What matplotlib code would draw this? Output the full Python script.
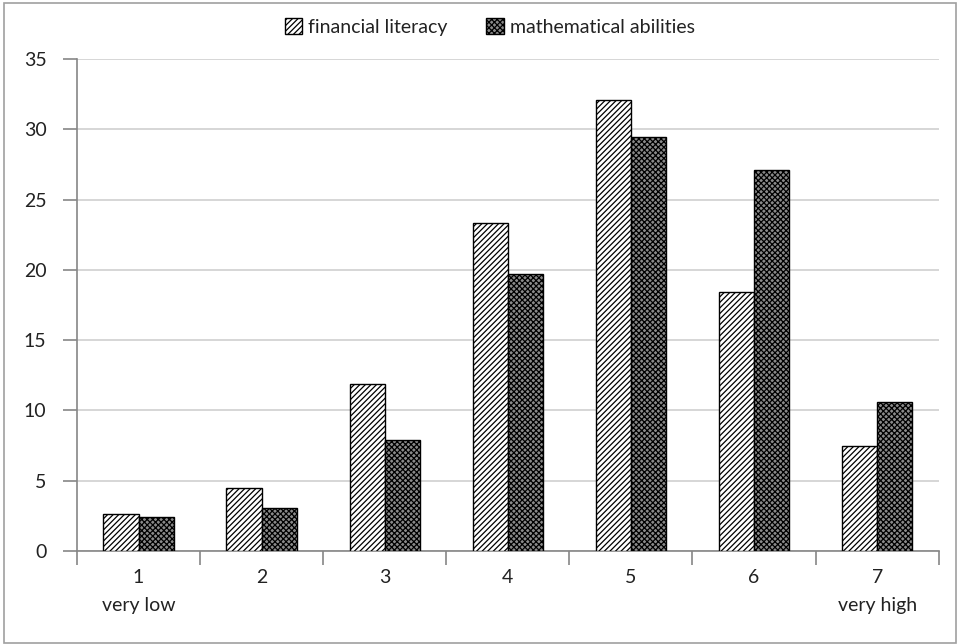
import numpy as np
import matplotlib
matplotlib.use('Agg')
import matplotlib.pyplot as plt
from matplotlib.patches import Rectangle

# 数据
categories = ['1\nvery low', '2', '3', '4', '5', '6', '7\nvery high']
financial_literacy = [2.6, 4.5, 11.9, 23.3, 32.1, 18.4, 7.45]
math_abilities = [2.4, 3.05, 7.9, 19.7, 29.45, 27.1, 10.6]
series_names = ['financial literacy', 'mathematical abilities']
y_ticks = [0, 5, 10, 15, 20, 25, 30, 35]

plt.rcParams['font.family'] = ['Lato', 'DejaVu Sans']
plt.rcParams['hatch.linewidth'] = 0.9

fig = plt.figure(figsize=(9.6, 6.44), dpi=100)
ax = fig.add_axes([0.0802, 0.1444, 0.8976, 0.7640])

x = np.arange(len(categories))
w = 1 / 3.5

ax.bar(x - w / 2, financial_literacy, w, facecolor='white', edgecolor='black',
       hatch='//////', linewidth=1.0, label=series_names[0], zorder=3)
ax.bar(x + w / 2, math_abilities, w, facecolor='#8a8a8a', edgecolor='black',
       hatch='xxxxxx', linewidth=1.0, label=series_names[1], zorder=3)

ax.set_xlim(-0.5, len(categories) - 0.5)
ax.set_ylim(0, 35)
ax.set_yticks(y_ticks)
ax.yaxis.grid(True, color='#d0d0d0', linewidth=1.2, zorder=0)
ax.set_axisbelow(True)

# 分类标签放在中间, 刻度线放在边界
ax.set_xticks(x)
ax.set_xticklabels(categories, linespacing=1.8, va='top')
ax.tick_params(axis='x', which='major', length=0, pad=13)
ax.set_xticks(np.arange(len(categories) + 1) - 0.5, minor=True)
ax.tick_params(axis='x', which='minor', length=10, color='#868686', width=1.2)
ax.tick_params(axis='y', length=10, color='#868686', width=1.2, pad=12)
ax.tick_params(labelsize=14, labelcolor='#222222')

for s in ['top', 'right']:
    ax.spines[s].set_visible(False)
for s in ['left', 'bottom']:
    ax.spines[s].set_color('#868686')
    ax.spines[s].set_linewidth(1.2)

fig.legend(loc='center', bbox_to_anchor=(0.51, 0.958), ncol=2, frameon=False,
           fontsize=14, handlelength=0.9, handleheight=0.9, handletextpad=0.3,
           columnspacing=2.0, labelcolor='#222222')

# 外框
fig.patches.append(Rectangle((0.004, 0.002), 0.992, 0.994, transform=fig.transFigure,
                             fill=False, edgecolor='#a0a0a0', linewidth=1.2))

fig.savefig('out.png', dpi=100)
plt.close(fig)
